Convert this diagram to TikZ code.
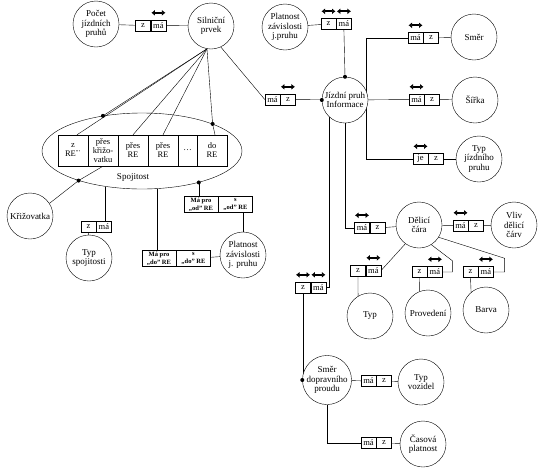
\documentclass[tikz,border=0pt]{standalone}
\usepackage{fontspec}
\setmainfont{Liberation Serif}
\usetikzlibrary{shapes.geometric,backgrounds,arrows.meta}

\tikzset{
  ent/.style={circle, draw, fill=white, minimum size=46pt, inner sep=0pt, align=center, font=\fontsize{9}{9.5}\selectfont},
  cell/.style={draw, fill=white, minimum width=15pt, minimum height=11pt, inner sep=0pt, font=\fontsize{8.5}{9}\selectfont},
  wcell/.style={draw, fill=white, minimum width=34pt, minimum height=16pt, inner sep=0pt, align=center, font=\fontsize{6.5}{7.5}\selectfont\bfseries},
  recell/.style={draw, fill=white, minimum width=30pt, minimum height=31pt, inner sep=0pt, align=center, font=\fontsize{8.5}{9}\selectfont},
  dirarr/.style={{Latex[length=3.5pt,width=6pt]}-{Latex[length=3.5pt,width=6pt]}, line width=2.2pt},
}

\begin{document}
\begin{tikzpicture}[x=1pt,y=-1pt]
    \useasboundingbox (0,0) rectangle (540,472);

    % entities
    \node[ent] at (96,24)   (pocet)    {Počet\\jízdních\\pruhů};
    \node[ent] at (211,26)  (silPrvek) {Silniční\\prvek};
    \node[ent] at (285,27)  (platTop)  {Platnost\\závislosti\\j.pruhu};
    \node[ent] at (345,100) (jizPruh)  {Jízdní pruh\\Informace};
    \node[ent] at (474,37)  (smer)     {Směr};
    \node[ent] at (475,100) (sirka)    {Šířka};
    \node[ent] at (479,159) (typJiz)   {Typ\\jízdního\\pruhu};
    \node[ent] at (419,225) (delCara)  {Dělicí\\čára};
    \node[ent] at (514,225) (vliv)     {Vliv\\dělicí\\čárv};
    \node[ent] at (370,316) (typCara)  {Typ};
    \node[ent] at (428,313) (proved)   {Provedení};
    \node[ent] at (486,310) (barva)    {Barva};
    \node[ent] at (327,380) (smerDop)  {Směr\\dopravního\\proudu};
    \node[ent] at (421,382) (typVoz)   {Typ\\vozidel};
    \node[ent] at (423,444) (casPlat)  {Časová\\platnost};
    \node[ent] at (30,216)  (krizov)   {Křižovatka};
    \node[ent] at (89,258)  (typSpoj)  {Typ\\spojitosti};
    \node[ent] at (243,255) (platBot)  {Platnost\\závislosti\\j. pruhu};

    % spojitost
    \node[draw, ellipse, minimum width=200pt, minimum height=76pt] at (142,151) (spojitost) {};
    \node[recell] at (73,150.5)  (re1) {z\\RE\textsuperscript{"'}};
    \node[recell] at (103,150.5) (re2) {přes\\křižo-\\vatku};
    \node[recell] at (133,150.5) (re3) {přes\\RE};
    \node[recell] at (163,150.5) (re4) {přes\\RE};
    \node[recell, minimum width=19pt] at (187.5,150.5) (re5) {\dots};
    \node[recell] at (212,150.5) (re6) {do\\RE};
    \node[font=\fontsize{9}{9.5}\selectfont] at (133,177) (spojLbl) {Spojitost};

    % relation boxes
    \node[cell] at (143,25.5) (pocZ) {z};
    \node[cell, anchor=west] at (pocZ.east) (pocMa) {má};
    \node[cell] at (328.5,24) (platZ) {z};
    \node[cell, anchor=west] at (platZ.east) (platMa) {má};
    \node[cell] at (272.5,99.5) (jizMa) {má};
    \node[cell, anchor=west] at (jizMa.east) (jizZ) {z};
    \node[cell] at (415.5,38) (smerMa) {má};
    \node[cell, anchor=west] at (smerMa.east) (smerZ) {z};
    \node[cell] at (416.5,99.5) (sirMa) {má};
    \node[cell, anchor=west] at (sirMa.east) (sirZ) {z};
    \node[cell] at (420.5,159) (typJe) {je};
    \node[cell, anchor=west] at (typJe.east) (typZ) {z};
    \node[cell] at (362,228) (delMa) {má};
    \node[cell, anchor=west] at (delMa.east) (delZ) {z};
    \node[cell] at (460.5,225.5) (vlivMa) {má};
    \node[cell, anchor=west] at (vlivMa.east) (vlivZ) {z};
    \node[cell] at (358,270.5) (tcZ) {z};
    \node[cell, anchor=west] at (tcZ.east) (tcMa) {má};
    \node[cell] at (419.5,272) (prZ) {z};
    \node[cell, anchor=west] at (prZ.east) (prMa) {má};
    \node[cell] at (470.5,272) (baZ) {z};
    \node[cell, anchor=west] at (baZ.east) (baMa) {má};
    \node[cell] at (303,287.5) (sdZ) {z};
    \node[cell, anchor=west] at (sdZ.east) (sdMa) {má};
    \node[cell] at (368.5,381) (tvMa) {má};
    \node[cell, anchor=west] at (tvMa.east) (tvZ) {z};
    \node[cell] at (368.5,443) (cpMa) {má};
    \node[cell, anchor=west] at (cpMa.east) (cpZ) {z};
    \node[cell] at (88.5,226.5) (spZ) {z};
    \node[cell, anchor=west] at (spZ.east) (spMa) {má};
    \node[wcell] at (159,258.5) (doMa) {Má pro\\„do" RE};
    \node[wcell, anchor=west] at (doMa.east) (doS) {s\\„do" RE};
    \node[wcell] at (201,204.5) (odMa) {Má pro\\„od" RE};
    \node[wcell, anchor=west] at (odMa.east) (odS) {s\\„od" RE};

    \coordinate (jizBus) at ([xshift=-2pt]jizPruh.east);

    \begin{scope}[on background layer]
    \draw (pocet) -- (pocZ);
    \draw (pocMa) -- (silPrvek);
    \draw (platTop) -- (platZ);
    \draw (platMa.south) -- (jizPruh.north);
    \draw (silPrvek.295) -- (jizMa.west);
    \draw (jizZ) -- (jizPruh);
    \draw (smerMa.west) -| (jizBus |- typJe.west) -- (typJe.west);
    \draw (jizPruh) -- (sirMa);
    \draw (smerZ) -- (smer);
    \draw (sirZ) -- (sirka);
    \draw (typZ) -- (typJiz);
    \draw (jizPruh.south) |- (delMa.west);
    \draw (delZ) -- (delCara);
    \draw (delCara) -- (vlivMa);
    \draw (vlivZ) -- (vliv);
    \draw (jizPruh.226) |- (sdMa.east);
    \draw (sdZ.south) -- (sdZ.south |- smerDop.west);
    \draw (smerDop) -- (tvMa);
    \draw (tvZ) -- (typVoz);
    \draw (smerDop.south) |- (cpMa.west);
    \draw (cpZ) -- (casPlat);
    \draw (tcMa.east) -- (delCara.234);
    \draw (delCara.302) -- ++(21,16) |- (prMa.east);
    \draw (delCara.328) -- ++(66,21) |- (baMa.east);
    \draw (tcZ.south) -- (typCara.121);
    \draw (prZ.south) -- (proved.112);
    \draw (baZ.south) -- (barva.130);

    \draw (silPrvek.260) -- (spojitost.138);
    \draw (silPrvek.260) -- ([xshift=4pt]re1.north);
    \draw (silPrvek.260) -- (re3.north);
    \draw (silPrvek.260) -- (re4.north);
    \draw (silPrvek.260) -- (spojitost.21) -- ([xshift=3pt]re6.north);
    \draw (re2.south) -- (spojitost.205) -- (krizov.33);
    \draw (spojitost.224) -- (spojitost.224 |- spMa.north);
    \draw (spZ) -- (typSpoj);
    \draw (spojitost.292) -- (spojitost.292 |- doMa.north);
    \draw (spojitost.331) -- (spojitost.331 |- odMa.north);
    \draw (platBot.north |- odS.south) -- (platBot.north);
    \draw (doS) -- (platBot);
    \end{scope}

    % joints
    \foreach \p in {jizPruh.north, jizPruh.west, smerDop.west, spojitost.138, spojitost.21, spojitost.205, spojitost.331}
      \fill (\p) circle (2pt);

    % direction marks
    \foreach \c in {pocMa, platZ, platMa, jizZ, smerMa, sirMa, typJe, delMa, vlivMa, tcMa, prMa, baMa, sdZ, sdMa}
      \draw[dirarr] ([shift={(-7,-7)}]\c.north) -- ([shift={(7,-7)}]\c.north);
\end{tikzpicture}
\end{document}
